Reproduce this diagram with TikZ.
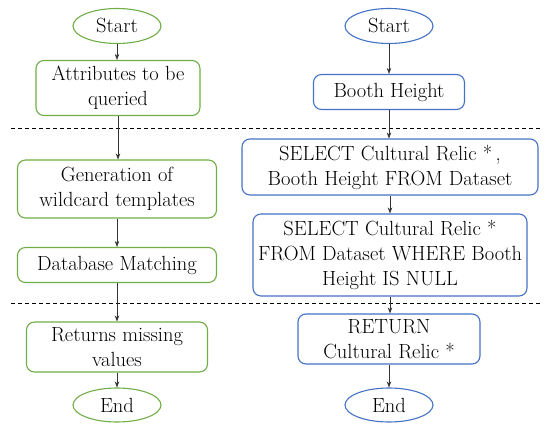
\documentclass[tikz,border=0pt]{standalone}
\usepackage{fontspec}
\usetikzlibrary{arrows.meta, shapes.geometric}

\definecolor{leafgreen}{RGB}{112,173,71}
\definecolor{skyblue}{RGB}{68,114,196}

\tikzset{
    box/.style={draw, rounded corners=8pt, line width=1.1pt, align=center,
        inner sep=0pt, font=\fontsize{20.5}{25}\selectfont},
    greenbox/.style={box, leafgreen, text=black},
    bluebox/.style={box, skyblue, text=black},
    greenoval/.style={greenbox, ellipse, rounded corners=0pt},
    blueoval/.style={bluebox, ellipse, rounded corners=0pt},
    flow/.style={-{Stealth[length=6pt,width=4.5pt]}, line width=0.6pt, black!80},
    sep/.style={dashed, dash pattern=on 4pt off 3pt, line width=0.9pt}
}

\begin{document}
\begin{tikzpicture}[x=1pt, y=-1pt]
    \useasboundingbox (0,0) rectangle (550,430);

    % Left flow
    \node[greenoval, minimum width=88pt, minimum height=35pt] (lstart) at (117,26) {Start};
    \node[greenbox, minimum width=164pt, minimum height=55pt] (attr) at (118,88) {Attributes to be\\queried};
    \node[greenbox, minimum width=199pt, minimum height=58pt] (gen) at (117,189) {Generation of\\wildcard templates};
    \node[greenbox, minimum width=199pt, minimum height=35pt] (match) at (117,265) {Database Matching};
    \node[greenbox, minimum width=181pt, minimum height=50pt] (miss) at (117,347) {Returns missing\\values};
    \node[greenoval, minimum width=88pt, minimum height=34pt] (lend) at (117,405) {End};

    % Right flow
    \node[blueoval, minimum width=88pt, minimum height=35pt] (rstart) at (389,26) {Start};
    \node[bluebox, minimum width=151pt, minimum height=35pt] (booth) at (389,92) {Booth Height};
    \node[bluebox, minimum width=296pt, minimum height=56pt] (sel) at (390,167) {SELECT Cultural Relic *\,,\\Booth Height FROM Dataset};
    \node[bluebox, minimum width=274pt, minimum height=82pt] (null) at (390,255) {SELECT Cultural Relic *\\FROM Dataset WHERE Booth\\Height IS NULL};
    \node[bluebox, minimum width=182pt, minimum height=50pt] (ret) at (389,339) {RETURN\\Cultural Relic *};
    \node[blueoval, minimum width=88pt, minimum height=34pt] (rend) at (389,405) {End};

    % Stage separators
    \coordinate (s1a) at (11,128);
    \coordinate (s1b) at (542,128);
    \coordinate (s2a) at (11,303);
    \coordinate (s2b) at (542,303);
    \draw[sep] (s1a) -- (s1b);
    \draw[sep] (s2a) -- (s2b);

    % Arrows
    \draw[flow] (lstart) -- (lstart |- attr.north);
    \draw[flow] (attr) -- (attr |- gen.north);
    \draw[flow] (gen) -- (gen |- match.north);
    \draw[flow] (match) -- (match |- miss.north);
    \draw[flow] (miss) -- (miss |- lend.north);
    \draw[flow] (rstart) -- (booth);
    \draw[flow] (booth) -- (booth |- sel.north);
    \draw[flow] (sel) -- (sel |- null.north);
    \draw[flow] (null) -- (null |- ret.north);
    \draw[flow] (ret) -- (ret |- rend.north);
\end{tikzpicture}
\end{document}
